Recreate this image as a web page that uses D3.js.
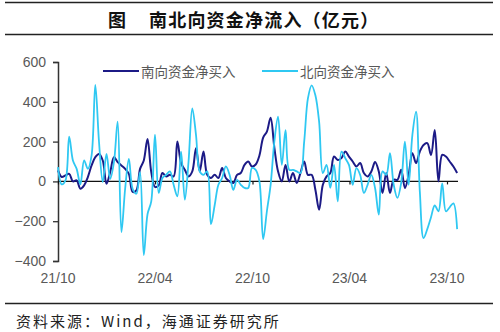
<!DOCTYPE html>
<html>
<head>
<meta charset="utf-8">
<script src="https://cdn.jsdelivr.net/npm/d3@7"></script>
<style>
  html, body { margin: 0; padding: 0; background: #fff; }
  svg { display: block; }
</style>
</head>
<body>
<svg id="chart" width="500" height="332"></svg>
<script>
// ---------------- data ----------------
const titleText = "南北向资金净流入（亿元）";
const titleFigure = "图";
const sourceText = "资料来源：Wind，海通证券研究所";
const seriesNames = ["南向资金净买入", "北向资金净买入"];
const startDate = "2021-10-01"; // weekly observations
const tickDates = ["2021-10-01", "2022-04-01", "2022-10-01", "2023-04-01", "2023-10-01"];
const tickLabels = ["21/10", "22/04", "22/10", "23/04", "23/10"];
const yTicks = [-400, -200, 0, 200, 400, 600];

const southValues = [
  55, 22, 30, 38, 0, 5, -37, -20, 22, 80,
  122, 138, 105, -12, 47, 122, 97, 80, 63, 38,
  -53, -45, 63, 105, 213, 47, -28, -20, 42, 25,
  33, 25, 200, 92, 58, 25, 50, 167, 50, 150,
  33, 17, 33, 17, 67, 17, 0, -8, 33, 42,
  83, 100, 75, 85, 130, 220, 250, 320, 170, 50,
  0, 83, 0, 42, -8, 42, 100, 33, 33, -42,
  -142, -17, 25, 42, 125, 108, 117, 150, 125, 100,
  75, 92, 42, 25, 50, 97, 50, -58, 42, -58,
  8, 8, 58, -33, 33, 142, 92, 150, 183, 192,
  133, 258, 0, 133, 125, 100, 75, 42
];
const northValues = [
  72, -15, 5, 225, 105, 63, -15, 105, 63, 130,
  485, 197, -3, 138, 13, 97, 300, -255, -37, 113,
  -37, -62, 47, -370, -165, -100, 235, -58, 17, 33,
  50, -17, -75, 150, -92, 100, 367, 233, 50, 33,
  50, -215, -120, -17, 17, 75, 33, -42, 8, -17,
  -33, -33, 67, 58, 0, -290, -150, -17, 200, 325,
  83, 258, 58, 58, 50, 42, 200, 417, 483, 433,
  300, 42, 83, -33, 83, -100, 150, 117, 83, -17,
  67, 33, -58, -17, 33, -33, -167, 50, 33, 142,
  -17, -83, -8, 200, -17, 233, 350, -50, -285, -240,
  -180, -120, -150, -10, -150, -130, -110, -240
];

// ---------------- chart ----------------
const parse = d3.timeParse("%Y-%m-%d");
const start = parse(startDate);
const dates = southValues.map((_, i) => d3.timeDay.offset(start, 7 * i));

const svg = d3.select("#chart");
const cjk = "'Noto Sans CJK SC', 'Noto Sans', sans-serif";
const latin = "'Liberation Sans', Arial, sans-serif";

const x = d3.scaleTime()
  .domain([parse(tickDates[0]), parse(tickDates[tickDates.length - 1])])
  .range([58, 447]);
const y = d3.scaleLinear().domain([-400, 600]).range([261, 62]);

// header rules & title
svg.append("line").attr("x1", 5).attr("x2", 493).attr("y1", 2.5).attr("y2", 2.5)
  .attr("stroke", "#222").attr("stroke-width", 1.4);
svg.append("line").attr("x1", 5).attr("x2", 493).attr("y1", 34.5).attr("y2", 34.5)
  .attr("stroke", "#222").attr("stroke-width", 1.4);
svg.append("text").attr("x", 117).attr("y", 19).attr("text-anchor", "middle")
  .attr("dominant-baseline", "central")
  .style("font-family", cjk).style("font-size", "18px").style("font-weight", "bold")
  .attr("fill", "#111").text(titleFigure);
svg.append("text").attr("x", 149).attr("y", 19)
  .attr("dominant-baseline", "central")
  .style("font-family", cjk).style("font-size", "18px").style("font-weight", "bold")
  .style("letter-spacing", "1.2px")
  .attr("fill", "#111").text(titleText);

// footer
svg.append("line").attr("x1", 5).attr("x2", 493).attr("y1", 303.5).attr("y2", 303.5)
  .attr("stroke", "#222").attr("stroke-width", 1.4);
svg.append("text").attr("x", 16).attr("y", 320)
  .attr("dominant-baseline", "central")
  .style("font-family", cjk).style("font-size", "15px")
  .style("letter-spacing", "2px")
  .attr("fill", "#222").text(sourceText);

// y axis
const yAxis = d3.axisLeft(y).tickValues(yTicks).tickSize(5).tickPadding(7)
  .tickFormat(d3.format("d"));
const gy = svg.append("g").attr("transform", "translate(58,0)").call(yAxis);
gy.select(".domain").attr("stroke", "#333").attr("stroke-width", 1.5);
gy.selectAll(".tick line").attr("stroke", "#333").attr("stroke-width", 1.3);
gy.selectAll(".tick text").style("font-family", latin).style("font-size", "14px")
  .attr("fill", "#595959");

// zero line with downward ticks
const xAxis = d3.axisBottom(x).tickValues(tickDates.map(parse)).tickSize(3)
  .tickFormat("").tickSizeOuter(0);
const gx = svg.append("g").attr("transform", `translate(0,${y(0)})`).call(xAxis);
gx.select(".domain").attr("d", `M58,0H458`).attr("stroke", "#111").attr("stroke-width", 1.3);
gx.selectAll(".tick line").attr("stroke", "#111").attr("stroke-width", 1.2);

// x tick labels at bottom
svg.append("g").selectAll("text").data(tickDates).join("text")
  .attr("x", d => x(parse(d))).attr("y", 283)
  .attr("text-anchor", "middle")
  .style("font-family", latin).style("font-size", "14px")
  .attr("fill", "#595959")
  .text((d, i) => tickLabels[i]);

// lines
const colors = ["#1c1a86", "#2fc8f2"];
const widths = [2, 1.8];
const line = d3.line().x(d => x(d.date)).y(d => y(d.v)).curve(d3.curveCatmullRom.alpha(0.5));
const southData = dates.map((d, i) => ({ date: d, v: southValues[i] }));
const northData = dates.map((d, i) => ({ date: d, v: northValues[i] }));

svg.append("path").datum(southData).attr("d", line)
  .attr("fill", "none").attr("stroke", colors[0]).attr("stroke-width", widths[0])
  .attr("stroke-linejoin", "round");
svg.append("path").datum(northData).attr("d", line)
  .attr("fill", "none").attr("stroke", colors[1]).attr("stroke-width", widths[1])
  .attr("stroke-linejoin", "round");

// legend
const legend = [
  { x1: 103, x2: 139, tx: 141 },
  { x1: 262, x2: 298, tx: 300 }
];
legend.forEach((l, i) => {
  svg.append("line").attr("x1", l.x1).attr("x2", l.x2).attr("y1", 71).attr("y2", 71)
    .attr("stroke", colors[i]).attr("stroke-width", 2.2);
  svg.append("text").attr("x", l.tx).attr("y", 71).attr("dominant-baseline", "central")
    .style("font-family", cjk).style("font-size", "13.5px")
    .attr("fill", "#595959").text(seriesNames[i]);
});
</script>
</body>
</html>
